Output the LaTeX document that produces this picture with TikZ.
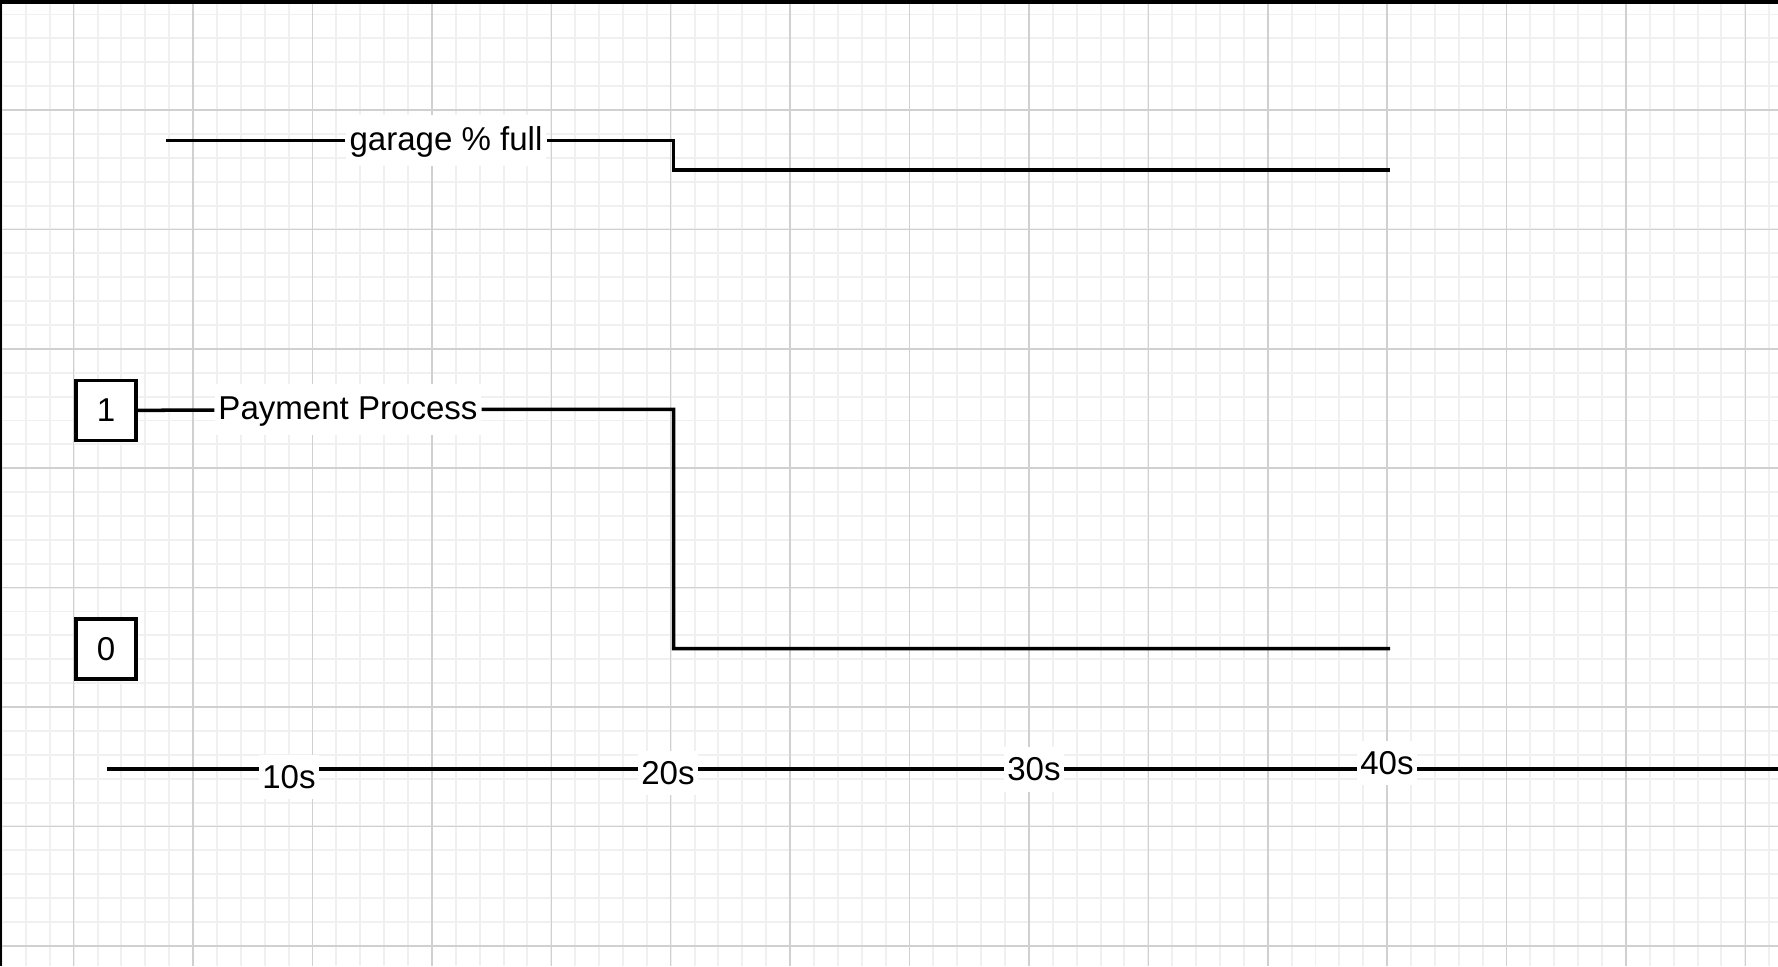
\documentclass[tikz,border=0pt]{standalone}
\usepackage{fontspec}
\setmainfont{Liberation Sans}
\usepackage{tikz}
\usetikzlibrary{positioning}
\definecolor{gridmajor}{HTML}{D0D0D0}
\definecolor{gridminor}{HTML}{F0F0F0}

\begin{document}
\begin{tikzpicture}[x=0.01cm, y=-0.01cm,
    sig/.style={line width=1pt},
    siglabel/.style={fill=white, inner xsep=1pt, inner ysep=3pt, text height=0.72em, text depth=0.15em, font=\fontsize{9.4}{11}\selectfont},
    ticklabel/.style={fill=white, inner xsep=1pt, inner ysep=3pt, font=\fontsize{9.4}{11}\selectfont},
    valbox/.style={draw, line width=1pt, minimum size=0.6cm, inner sep=0pt, fill=white, font=\fontsize{9.4}{11}\selectfont}]
    \useasboundingbox (0,0) rectangle (1778,966);
    \fill[white] (0,0) rectangle (1778,966);

    % Grid
    \foreach \i in {0,...,74}
        \draw[gridminor, line width=0.55pt] (2.06+\i*23.88,0) -- (2.06+\i*23.88,966);
    \foreach \i in {0,...,39}
        \draw[gridminor, line width=0.55pt] (0,14.5+\i*23.88) -- (1778,14.5+\i*23.88);
    \foreach \i in {0,...,14}
        \draw[gridmajor, line width=0.45pt] (73.7+\i*119.4,0) -- (73.7+\i*119.4,966);
    \foreach \i in {0,...,7}
        \draw[gridmajor, line width=0.45pt] (0,110+\i*119.4) -- (1778,110+\i*119.4);

    % Frame
    \fill[black] (0,0) rectangle (1778,4);
    \fill[black] (0,0) rectangle (2,966);

    % Points
    \coordinate (gstart) at (166,140.6);
    \coordinate (gstep) at (673.6,140.6);
    \coordinate (gend) at (1390,170);
    \coordinate (pstep) at (673.6,409.4);
    \coordinate (pend) at (1390,648.6);
    \coordinate (axstart) at (106.6,769);
    \coordinate (axend) at (1778,769);

    % Levels
    \node[valbox] (one) at (106,410.5) {1};
    \node[valbox] (zero) at (106,649) {0};

    % Signals
    \node[siglabel] (glabel) at (446,140.6) {garage \% full};
    \node[siglabel] (plabel) at (348,409.4) {Payment Process};
    \draw[sig] (gstart) -- (glabel) -- (gstep) |- (gend);
    \draw[sig] (one) -- (plabel) -- (pstep) |- (pend);

    % Time axis
    \draw[sig] (axstart) -- (axend);
    \node[ticklabel] (t10) at (289,777) {10s};
    \node[ticklabel] (t20) at (668,773) {20s};
    \node[ticklabel] (t30) at (1034,769.5) {30s};
    \node[ticklabel] (t40) at (1387,763) {40s};
\end{tikzpicture}
\end{document}
